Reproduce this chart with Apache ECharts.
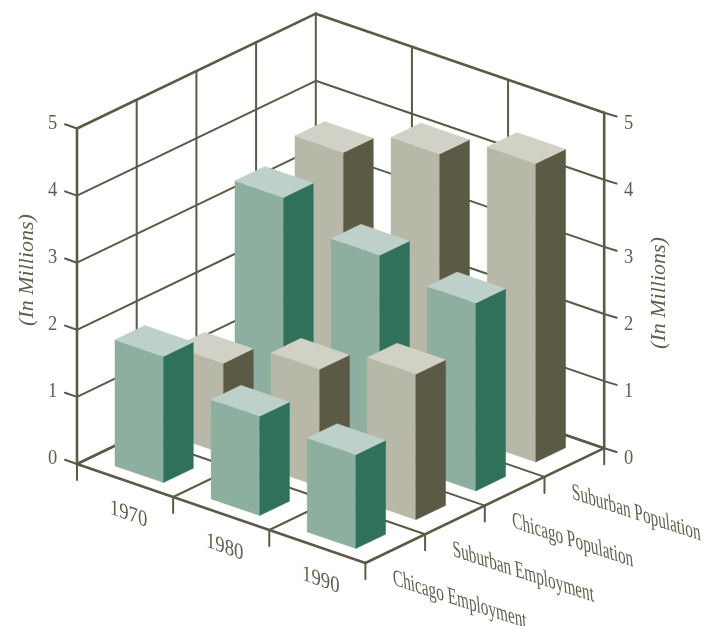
<!DOCTYPE html>
<html>
<head>
<meta charset="utf-8">
<style>html,body{margin:0;padding:0;background:#fff}#chart{width:704px;height:626px}</style>
<script src="https://cdn.jsdelivr.net/npm/echarts@6/dist/echarts.min.js"></script>
</head>
<body>
<div id="chart"></div>
<script>
// Employment and population of the Chicago area, in millions
const years = ['1970', '1980', '1990'];
const rowNames = ['Chicago Employment', 'Suburban Employment', 'Chicago Population', 'Suburban Population'];
const valueTicks = [0, 1, 2, 3, 4, 5];
const chicagoEmployment = [1.88, 1.48, 1.40];
const suburbanEmployment = [1.35, 1.75, 2.17];
const chicagoPopulation = [3.39, 3.02, 2.80];
const suburbanPopulation = [3.63, 4.10, 4.45];
const axisTitle = '(In Millions)';

const INK = '#5a5a45';
const TEXT = '#5f5f4c';
const TEAL = { front: '#8cafa0', side: '#2f7159', top: '#bdd1ca' };
const TAN = { front: '#b8b8a8', side: '#5a5a45', top: '#d1d1c6' };

// Oblique projection: the grid's own scales give the category and value
// position, the row depth and the floor slope are added on top.
const CAT_DROP = 33;
const ROW_DX = 59.7;
const ROW_DY = -28.7;
const rad = d => d * Math.PI / 180;

function project(api, cat, row, value) {
  const p = api.coord([cat, value]);
  return [p[0] + row * ROW_DX, p[1] + cat * CAT_DROP + row * ROW_DY];
}

function line(a, b, w) {
  return { type: 'line', shape: { x1: a[0], y1: a[1], x2: b[0], y2: b[1] },
    style: { stroke: INK, lineWidth: w, lineCap: 'round' } };
}

function label(text, x, y, font, opts) {
  return Object.assign({ type: 'text', x, y, originX: 0, originY: 0,
    style: { text, font, fill: TEXT, align: 'center', verticalAlign: 'middle' } }, opts || {});
}

function renderFrame(params, api) {
  const nCat = years.length, nRow = rowNames.length;
  const maxV = valueTicks[valueTicks.length - 1];
  const kids = [];
  const P = (c, r, v) => project(api, c, r, v);
  const THIN = 2, THICK = 2.6;

  // left wall and right wall
  valueTicks.forEach(v => {
    const w = v === maxV ? THICK : THIN;
    kids.push(line(P(0, 0, v), P(0, nRow, v), w));
    kids.push(line(P(0, nRow, v), P(nCat, nRow, v), w));
    const a = P(0, 0, v), b = P(nCat, nRow, v);
    kids.push(line(a, [a[0] - 12, a[1] - 4.2], THIN));
    kids.push(line(b, [b[0] + 12.5, b[1] + 3.8], THIN));
  });
  for (let r = 0; r <= nRow; r++) kids.push(line(P(0, r, 0), P(0, r, maxV), r === 0 ? THICK : THIN));
  for (let c = 1; c <= nCat; c++) kids.push(line(P(c, nRow, 0), P(c, nRow, maxV), c === nCat ? THICK : THIN));

  // floor
  for (let c = 1; c < nCat; c++) kids.push(line(P(c, 0, 0), P(c, nRow, 0), THIN));
  for (let r = 1; r < nRow; r++) kids.push(line(P(0, r, 0), P(nCat, r, 0), THIN));
  kids.push(line(P(0, 0, 0), P(0, nRow, 0), THICK));
  kids.push(line(P(0, nRow, 0), P(nCat, nRow, 0), THICK));
  kids.push(line(P(0, 0, 0), P(nCat, 0, 0), THICK));
  kids.push(line(P(nCat, 0, 0), P(nCat, nRow, 0), THICK));

  // stems below the floor edges
  for (let c = 0; c <= nCat; c++) { const a = P(c, 0, 0); kids.push(line(a, [a[0], a[1] + 16], THIN)); }
  for (let r = 1; r <= nRow; r++) { const a = P(nCat, r, 0); kids.push(line(a, [a[0], a[1] + 16], THIN)); }

  // value labels, level on both sides
  valueTicks.forEach(v => {
    const y = P(0, 0, v)[1] - 5.6;
    const x0 = P(0, 0, 0)[0], x1 = P(nCat, nRow, 0)[0];
    const font = '22px "Liberation Serif"';
    kids.push(label(String(v), x0 - 24.3, y, font, { scaleX: 0.84 }));
    kids.push(label(String(v), x1 + 24.4, y, font, { scaleX: 0.84 }));
  });

  // axis titles
  const titleFont = 'italic 22px "Liberation Serif"';
  kids.push(label(axisTitle, 27, 270, titleFont, { rotation: rad(90) }));
  kids.push(label(axisTitle, 659, 293, titleFont, { rotation: rad(90) }));

  // year labels below the front edge
  years.forEach((y, c) => {
    const a = P(c + 0.5, 0, 0);
    kids.push(label(y, a[0] + 3.5, a[1] + 34, '21px "Liberation Serif"',
      { rotation: rad(-20), scaleX: 0.95, skewX: rad(20) }));
  });

  // row labels, sheared to follow the floor
  rowNames.forEach((n, r) => {
    const a = P(nCat, r, 0);
    const t = label(n, a[0] + 27.5, a[1] + 15.5, '22px "Liberation Serif"',
      { rotation: rad(-18), scaleX: 0.73, skewX: rad(23) });
    t.style.align = 'left';
    kids.push(t);
  });
  return { type: 'group', children: kids };
}

// Bar footprint within its floor cell
const BAR_U = [0.255, 0.76];
const BAR_V_START = 0.225;
const BAR_V_STEP = 1.005;
const BAR_DEPTH = 0.5;

function barRenderer(row, palette) {
  return function (params, api) {
    const cat = api.value(0), val = api.value(1);
    const v0 = BAR_V_START + row * BAR_V_STEP, v1 = v0 + BAR_DEPTH;
    const [u0, u1] = BAR_U;
    const P = (u, v, h) => project(api, cat + u, v, h);
    const poly = (pts, fill) => ({ type: 'polygon', shape: { points: pts },
      style: { fill, stroke: fill, lineWidth: 0.4 } });
    return { type: 'group', children: [
      poly([P(u0, v0, 0), P(u1, v0, 0), P(u1, v0, val), P(u0, v0, val)], palette.front),
      poly([P(u1, v0, 0), P(u1, v1, 0), P(u1, v1, val), P(u1, v0, val)], palette.side),
      poly([P(u0, v0, val), P(u1, v0, val), P(u1, v1, val), P(u0, v1, val)], palette.top)
    ] };
  };
}

function barSeries(name, row, values, palette) {
  return { type: 'custom', name, coordinateSystem: 'cartesian2d', clip: false, silent: true,
    renderItem: barRenderer(row, palette), encode: { x: 0, y: 1 },
    data: values.map((v, i) => [i, v]) };
}

const chart = echarts.init(document.getElementById('chart'), null, { renderer: 'canvas' });
chart.setOption({
  animation: false,
  backgroundColor: '#fff',
  grid: { left: 77, top: 128.5, width: 288.4, height: 335.5, containLabel: false },
  xAxis: { type: 'value', min: 0, max: years.length, show: false },
  yAxis: { type: 'value', min: 0, max: 5, interval: 1, show: false },
  series: [
    { type: 'custom', name: 'frame', coordinateSystem: 'cartesian2d', clip: false, silent: true,
      renderItem: renderFrame, data: [[0, 0]] },
    // drawn from the back row forward so nearer bars cover farther ones
    barSeries(rowNames[3], 3, suburbanPopulation, TAN),
    barSeries(rowNames[2], 2, chicagoPopulation, TEAL),
    barSeries(rowNames[1], 1, suburbanEmployment, TAN),
    barSeries(rowNames[0], 0, chicagoEmployment, TEAL)
  ]
});
</script>
</body>
</html>
